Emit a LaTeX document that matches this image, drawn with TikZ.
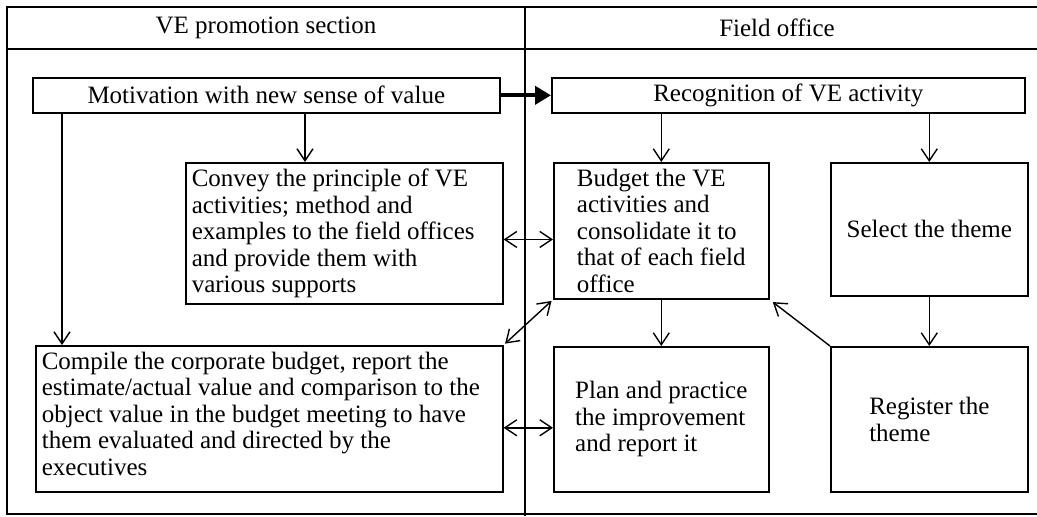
\documentclass[tikz,border=0pt]{standalone}
\usepackage{fontspec}
\setmainfont{Liberation Serif}
\usetikzlibrary{arrows.meta,calc}

\tikzset{
  lane/.style={line width=0.8pt},
  box/.style={draw, line width=0.8pt, inner sep=3pt, anchor=north west},
  flow/.style={-{Straight Barb[length=6pt,width=8pt]}, line width=0.7pt},
  both/.style={{Straight Barb[length=6pt,width=8pt]}-{Straight Barb[length=6pt,width=8pt]}, line width=0.7pt},
  push/.style={-{Triangle[length=8pt,width=9pt]}, line width=2pt}
}

\begin{document}
\begin{tikzpicture}[x=0.5pt, y=-0.5pt, font=\fontsize{12.5}{13.3}\selectfont]
  \useasboundingbox (0,0) rectangle (1037,516);
  % swimlanes
  \draw[lane] (1037,7) -- (7,7) -- (7,514) -- (1037,514);
  \draw[lane] (7,49) -- (1037,49);
  \draw[line width=1.4pt] (525,7) -- (525,516);
  \node (lanea) at (266,28) {VE promotion section};
  \node (laneb) at (777,28) {Field office};

  % promotion section
  \node[box, minimum width=233.5pt, minimum height=17.5pt] (motiv) at (32,77)
    {Motivation with new sense of value};
  \node[box, minimum width=158.5pt, minimum height=66.5pt, text width=152.5pt, align=flush left] (convey) at (185,162)
    {Convey the principle of VE\\activities; method and\\examples to the field offices\\and provide them with\\various supports};
  \node[box, minimum width=233.5pt, minimum height=73pt] (compile) at (35,345)
    {\parbox[t][67pt][t]{227.5pt}{Compile the corporate budget, report the\\estimate/actual value and comparison to the\\object value in the budget meeting to have\\them evaluated and directed by the\\executives}};

  % field office
  \node[box, minimum width=236.5pt, minimum height=17.5pt] (recog) at (551,77)
    {Recognition of VE activity};
  \node[box, minimum width=107.5pt, minimum height=66.5pt, align=left] (budget) at (553,162)
    {Budget the VE\\activities and\\consolidate it to\\that of each field\\office};
  \node[box, minimum width=98.5pt, minimum height=66.5pt] (select) at (830,162)
    {Select the theme};
  \node[box, minimum width=107.5pt, minimum height=72.5pt, align=left] (plan) at (553,346)
    {Plan and practice\\the improvement\\and report it};
  \node[box, minimum width=98.5pt, minimum height=72.5pt, align=left] (register) at (830,346)
    {Register the\\theme};

  % connectors
  \coordinate (cola) at (62,0);
  \coordinate (colb) at (305,0);
  \draw[push] (motiv.east) -- (recog.west);
  \draw[flow] (motiv.south -| cola) -- (compile.north -| cola);
  \draw[flow] (motiv.south -| colb) -- (convey.north -| colb);
  \draw[flow] (recog.south -| budget.north) -- (budget.north);
  \draw[flow] (recog.south -| select.north) -- (select.north);
  \draw[flow] (budget.south) -- (plan.north);
  \draw[flow] (select.south) -- (register.north);
  \draw[flow, shorten >=2pt] (register.north west) -- (budget.south east);
  \draw[both] ([yshift=-3pt]convey.east) -- ([yshift=-3pt]convey.east -| budget.west);
  \draw[both] ([yshift=-4.5pt]compile.east) -- ([yshift=-4.5pt]compile.east -| plan.west);
  \draw[both, shorten <=1pt, shorten >=1pt] (compile.north east) -- (budget.south west);
\end{tikzpicture}
\end{document}
